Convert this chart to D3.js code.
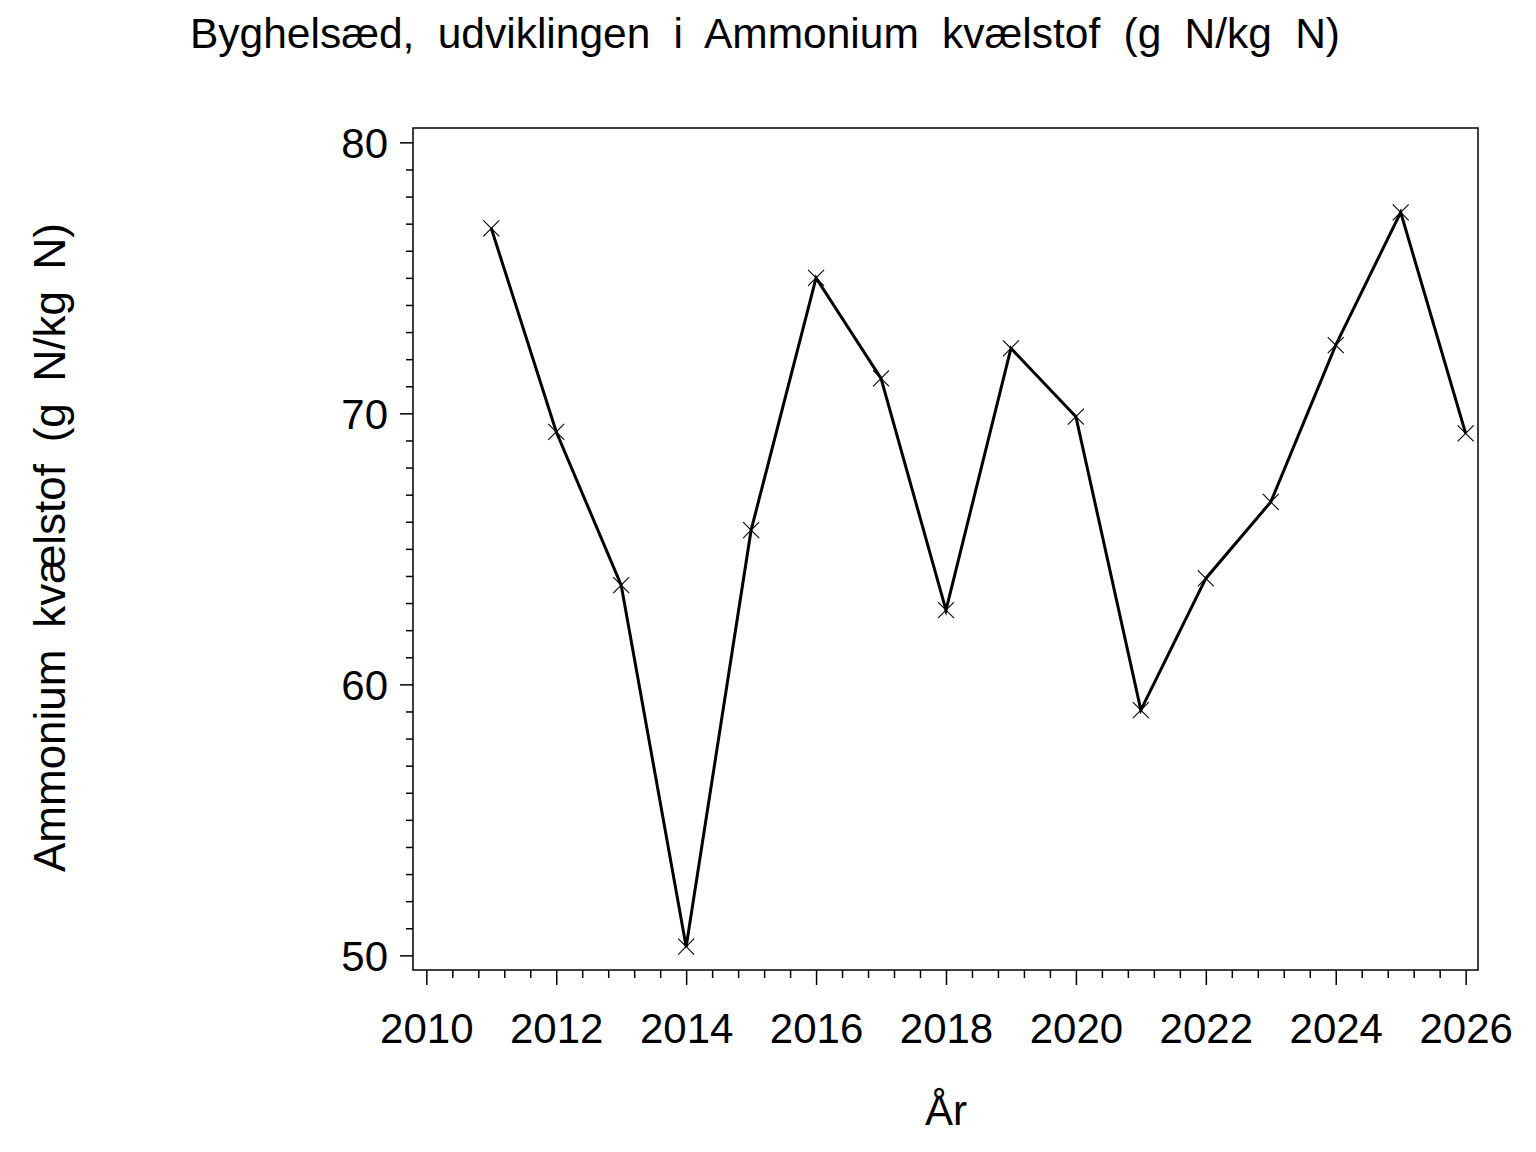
<!DOCTYPE html>
<html>
<head>
<meta charset="utf-8">
<script src="https://cdn.jsdelivr.net/npm/d3@7"></script>
<style>
  html, body { margin: 0; padding: 0; background: #fff; }
  svg { display: block; }
  text { font-family: "Liberation Sans", Arial, Helvetica, sans-serif; fill: #000; }
</style>
</head>
<body>
<svg id="chart" width="1536" height="1152"></svg>
<script>
const years = [2011, 2012, 2013, 2014, 2015, 2016, 2017, 2018, 2019, 2020, 2021, 2022, 2023, 2024, 2025, 2026];
const values = [76.83, 69.32, 63.66, 50.32, 65.69, 75.0, 71.29, 62.74, 72.4, 69.88, 59.05, 63.91, 66.73, 72.52, 77.42, 69.26];
const xTicks = [2010, 2012, 2014, 2016, 2018, 2020, 2022, 2024, 2026];
const yTicks = [50, 60, 70, 80];
const titleText = "Byghelsæd, udviklingen i Ammonium kvælstof (g N/kg N)";
const xLabel = "År";
const yLabel = "Ammonium kvælstof (g N/kg N)";

(function () {
const svg = d3.select("#chart");
const pLeft = 413, pRight = 1478, pTop = 128, pBottom = 970;

const x = d3.scaleLinear().domain([2009.795, 2026.19]).range([pLeft, pRight]);
const y = d3.scaleLinear().domain([49.46, 80.53]).range([pBottom, pTop]);

// frame
svg.append("rect")
  .attr("x", pLeft).attr("y", pTop)
  .attr("width", pRight - pLeft).attr("height", pBottom - pTop)
  .attr("fill", "none").attr("stroke", "#000").attr("stroke-width", 1.5);

// X axis minor ticks
const xMinor = d3.range(2010, 2026.001, 0.4).filter(v => Math.abs(v - Math.round(v / 2) * 2) > 0.01);
svg.append("g").attr("transform", `translate(0,${pBottom})`)
  .call(d3.axisBottom(x).tickValues(xMinor).tickSize(8).tickFormat(""))
  .call(g => g.select(".domain").remove())
  .call(g => g.selectAll("line").attr("stroke-width", 1.5));
svg.append("g").attr("transform", `translate(0,${pBottom})`)
  .call(d3.axisBottom(x).tickValues(xTicks).tickSize(15).tickPadding(0).tickFormat(d3.format("d")))
  .call(g => g.select(".domain").remove())
  .call(g => g.selectAll("line").attr("stroke-width", 1.5))
  .call(g => g.selectAll("text")
    .attr("font-size", 42)
    .attr("font-family", "Liberation Sans, Arial, sans-serif")
    .attr("fill", "#000")
    .attr("y", 73).attr("dy", 0));

// Y axis minor ticks
const yMinor = d3.range(50, 80.001, 1).filter(v => v % 10 !== 0);
svg.append("g").attr("transform", `translate(${pLeft},0)`)
  .call(d3.axisLeft(y).tickValues(yMinor).tickSize(7).tickFormat(""))
  .call(g => g.select(".domain").remove())
  .call(g => g.selectAll("line").attr("stroke-width", 1.5));
svg.append("g").attr("transform", `translate(${pLeft},0)`)
  .call(d3.axisLeft(y).tickValues(yTicks).tickSize(13).tickPadding(12).tickFormat(d3.format("d")))
  .call(g => g.select(".domain").remove())
  .call(g => g.selectAll("line").attr("stroke-width", 1.5))
  .call(g => g.selectAll("text")
    .attr("font-size", 42)
    .attr("font-family", "Liberation Sans, Arial, sans-serif")
    .attr("fill", "#000")
    .attr("dy", "0.36em"));

// line
const data = years.map((yr, i) => ({ yr, v: values[i] }));
svg.append("path")
  .datum(data)
  .attr("fill", "none")
  .attr("stroke", "#000")
  .attr("stroke-width", 3)
  .attr("stroke-linejoin", "miter")
  .attr("d", d3.line().x(d => x(d.yr)).y(d => y(d.v)));

// markers (X)
const m = 8;
svg.append("g").selectAll("path.mk")
  .data(data).join("path")
  .attr("class", "mk")
  .attr("fill", "none").attr("stroke", "#000").attr("stroke-width", 1.1)
  .attr("d", d => {
    const cx = x(d.yr), cy = y(d.v);
    return `M${cx - m},${cy - m}L${cx + m},${cy + m}M${cx - m},${cy + m}L${cx + m},${cy - m}`;
  });

// fit word spacing to the reference width
function fitWords(sel, targetWidth) {
  const w0 = sel.node().getComputedTextLength();
  const nSpaces = (sel.text().match(/ /g) || []).length;
  if (nSpaces > 0) sel.attr("word-spacing", (targetWidth - w0) / nSpaces);
}
const title = svg.append("text")
  .attr("x", 190).attr("y", 48)
  .attr("font-size", 42.5)
  .text(titleText);
fitWords(title, 1150);

// x label
svg.append("text")
  .attr("x", 946).attr("y", 1125)
  .attr("text-anchor", "middle")
  .attr("font-size", 42)
  .text(xLabel);

// y label
const yl = svg.append("text")
  .attr("transform", "translate(65,547.5) rotate(-90)")
  .attr("text-anchor", "start")
  .attr("font-size", 44)
  .text(yLabel);
fitWords(yl, 649);
yl.attr("x", -649 / 2);
})();
</script>
</body>
</html>
